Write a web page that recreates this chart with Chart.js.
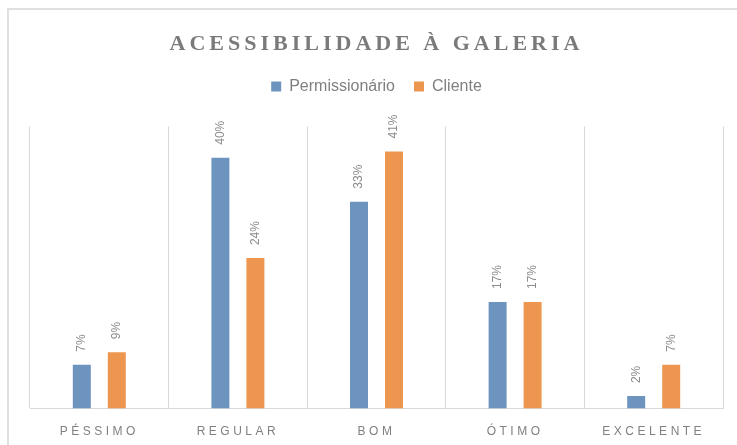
<!DOCTYPE html>
<html>
<head>
<meta charset="utf-8">
<script src="https://cdn.jsdelivr.net/npm/chart.js@4"></script>
<style>
  body { margin: 0; background: #fff; }
  #wrap { position: relative; width: 737px; height: 445px; overflow: hidden; }
  #frame { position: absolute; left: 7px; top: 8px; width: 760px; height: 460px;
           border-left: 2px solid #e0e0e0; border-top: 2px solid #e0e0e0; }
  #myChart { position: absolute; left: 0; top: 0; }
</style>
</head>
<body>
<div id="wrap">
  <div id="frame"></div>
  <canvas id="myChart" width="737" height="445"></canvas>
</div>
<script>
const categories = ["PÉSSIMO", "REGULAR", "BOM", "ÓTIMO", "EXCELENTE"];
const permissionario = [7, 40, 33, 17, 2];
const cliente = [9, 24, 41, 17, 7];

// canvas letterSpacing for a single draw method
function spaced(obj, name, ls) {
  if (!obj || obj["_ls_" + name]) return;
  const orig = obj[name];
  obj[name] = function (...args) {
    const c = this.ctx;
    const prev = c.letterSpacing;
    c.letterSpacing = ls;
    orig.apply(this, args);
    c.letterSpacing = prev;
  };
  obj["_ls_" + name] = true;
}

const spacing = {
  id: "spacing",
  beforeDraw(chart) {
    spaced(chart.titleBlock, "draw", "4px");
    spaced(chart.scales.x, "drawLabels", "3.5px");
  },
};

const legendGap = {
  id: "legendGap",
  beforeInit(chart) {
    const fit = chart.legend.fit;
    chart.legend.fit = function () {
      fit.call(this);
      this.height += 22;
    };
  },
};

const barLabels = {
  id: "barLabels",
  afterDatasetsDraw(chart) {
    const c = chart.ctx;
    c.save();
    c.font = "12px 'Liberation Sans'";
    c.fillStyle = "#8c8c8c";
    c.textAlign = "left";
    c.textBaseline = "middle";
    chart.data.datasets.forEach((ds, i) => {
      chart.getDatasetMeta(i).data.forEach((bar, j) => {
        c.save();
        c.translate(bar.x, bar.y - 13);
        c.rotate(-Math.PI / 2);
        c.fillText(ds.data[j] + "%", 0, 0);
        c.restore();
      });
    });
    c.restore();
  },
};

const ctx = document.getElementById("myChart");

new Chart(ctx, {
  type: "bar",
  data: {
    labels: categories,
    datasets: [
      {
        label: "Permissionário",
        data: permissionario,
        backgroundColor: "#6d93bf",
      },
      {
        label: "Cliente",
        data: cliente,
        backgroundColor: "#ec964f",
      },
    ],
  },
  options: {
    responsive: false,
    animation: false,
    layout: {
      padding: { left: 30, right: 14, top: 16, bottom: -10 },
    },
    datasets: {
      bar: {
        categoryPercentage: 0.505,
        barPercentage: 0.514,
      },
    },
    plugins: {
      title: {
        display: true,
        text: "ACESSIBILIDADE À GALERIA",
        color: "#7a7a7a",
        font: { family: "'Liberation Serif'", size: 22, weight: "bold" },
        padding: { top: 15, bottom: 2 },
      },
      legend: {
        labels: {
          boxWidth: 10,
          boxHeight: 10,
          padding: 19,
          color: "#7f7f7f",
          font: { family: "'Liberation Sans'", size: 16 },
        },
      },
      tooltip: { enabled: false },
    },
    scales: {
      x: {
        grid: { color: "#d9d9d9", drawTicks: false },
        border: { color: "#d9d9d9" },
        ticks: {
          color: "#808080",
          padding: 16,
          maxRotation: 0,
          autoSkip: false,
          font: { family: "'Liberation Sans'", size: 12 },
        },
      },
      y: {
        display: false,
        min: 0,
        max: 45,
      },
    },
  },
  plugins: [spacing, legendGap, barLabels],
});
</script>
</body>
</html>
